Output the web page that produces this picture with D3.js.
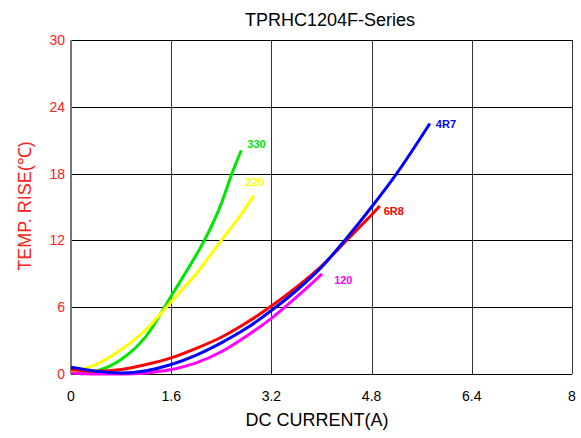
<!DOCTYPE html>
<html>
<head>
<meta charset="utf-8">
<script src="https://cdn.jsdelivr.net/npm/d3@7"></script>
<style>
    body { margin: 0; background: #fff; }
    svg { font-family: Arial, "Liberation Sans", sans-serif; }
</style>
</head>
<body>
<div id="chart"></div>
<script>
// valores
var xTicks = [0, 1.6, 3.2, 4.8, 6.4, 8];
var yTicks = [0, 6, 12, 18, 24, 30];

var current330 = [0.15, 0.4, 0.8, 1.2, 1.6, 1.98, 2.13, 2.4, 2.57, 2.72];
var temp330    = [0.0, 0.25, 1.3, 3.4, 7.0, 10.5, 12.0, 15.3, 18.0, 20.1];

var current220 = [0, 0.4, 0.8, 1.2, 1.6, 2.0, 2.4, 2.7, 2.92];
var temp220    = [0.2, 0.85, 2.2, 4.0, 6.5, 9.0, 12.0, 14.2, 16.0];

var current4R7 = [0, 0.4, 0.8, 1.2, 1.6, 2.0, 2.4, 2.8, 3.2, 3.6, 4.0, 4.4, 4.8, 5.2, 5.73];
var temp4R7    = [0.6, 0.25, 0.1, 0.3, 0.85, 1.7, 2.8, 4.1, 5.7, 7.5, 9.6, 12.2, 15.0, 18.0, 22.5];

var current6R8 = [0, 0.4, 0.8, 1.2, 1.6, 2.0, 2.4, 2.8, 3.2, 3.6, 4.0, 4.4, 4.8, 4.93];
var temp6R8    = [0.4, 0.25, 0.4, 0.85, 1.45, 2.3, 3.3, 4.6, 6.1, 7.8, 9.7, 12.0, 14.3, 15.1];

var current120 = [0, 0.4, 0.8, 1.2, 1.6, 2.0, 2.4, 2.8, 3.2, 3.6, 4.01];
var temp120    = [0.1, 0.0, 0.0, 0.1, 0.4, 1.0, 2.0, 3.4, 5.0, 6.9, 9.0];

var series = [
    {nome: "330", cor: "#00e600", x: current330, y: temp330, dx: 6, dy: -2},
    {nome: "220", cor: "#ffff00", x: current220, y: temp220, dx: -8, dy: -10},
    {nome: "120", cor: "#ff00ff", x: current120, y: temp120, dx: 12, dy: 10},
    {nome: "6R8", cor: "#ff0000", x: current6R8, y: temp6R8, dx: 4, dy: 9},
    {nome: "4R7", cor: "#0000ff", x: current4R7, y: temp4R7, dx: 6, dy: 4}
];

var width = 581, height = 438;
var margin = {left: 71, right: 9, top: 40, bottom: 64};

var svg = d3.select("#chart").append("svg")
    .attr("width", width)
    .attr("height", height);

var x = d3.scaleLinear().domain([0, 8]).range([margin.left, width - margin.right]);
var y = d3.scaleLinear().domain([0, 30]).range([height - margin.bottom, margin.top]);

// grade horizontal
svg.append("g")
    .selectAll("line")
    .data(yTicks.slice(1))
    .enter().append("line")
    .attr("x1", x(0)).attr("x2", x(8))
    .attr("y1", function(d) { return Math.round(y(d)) + 0.5; })
    .attr("y2", function(d) { return Math.round(y(d)) + 0.5; })
    .style("stroke", "#000")
    .style("stroke-width", 1);

// grade vertical
svg.append("g")
    .selectAll("line")
    .data(xTicks.slice(1))
    .enter().append("line")
    .attr("x1", function(d) { return Math.round(x(d)) + 0.5; })
    .attr("x2", function(d) { return Math.round(x(d)) + 0.5; })
    .attr("y1", y(30)).attr("y2", y(0))
    .style("stroke", "#333")
    .style("stroke-width", 1);

// eixo esquerdo e linha de baixo
svg.append("line")
    .attr("x1", x(0)).attr("x2", x(0))
    .attr("y1", y(30)).attr("y2", y(0))
    .style("stroke", "#777")
    .style("stroke-width", 2);

svg.append("line")
    .attr("x1", x(0)).attr("x2", x(8))
    .attr("y1", Math.round(y(0)) + 0.5).attr("y2", Math.round(y(0)) + 0.5)
    .style("stroke", "#000")
    .style("stroke-width", 1);

// rótulos dos ticks
svg.append("g")
    .selectAll("text")
    .data(xTicks)
    .enter().append("text")
    .attr("x", function(d) { return x(d); })
    .attr("y", y(0) + 27)
    .attr("text-anchor", "middle")
    .style("font-size", "14px")
    .style("fill", "#000")
    .text(function(d) { return d; });

svg.append("g")
    .selectAll("text")
    .data(yTicks)
    .enter().append("text")
    .attr("x", x(0) - 6)
    .attr("y", function(d) { return y(d) + 5; })
    .attr("text-anchor", "end")
    .style("font-size", "14px")
    .style("fill", "#ff2020")
    .text(function(d) { return d; });

// curvas
var line = d3.line()
    .x(function(d) { return x(d[0]); })
    .y(function(d) { return y(d[1]); })
    .curve(d3.curveMonotoneX);

var g = svg.selectAll(".serie")
    .data(series)
    .enter().append("g")
    .attr("class", "serie");

g.append("path")
    .attr("d", function(s) { return line(d3.zip(s.x, s.y)); })
    .style("fill", "none")
    .style("stroke", function(s) { return s.cor; })
    .style("stroke-width", 3)
    .style("stroke-linecap", "butt");

g.append("text")
    .attr("x", function(s) { return x(s.x[s.x.length - 1]) + s.dx; })
    .attr("y", function(s) { return y(s.y[s.y.length - 1]) + s.dy; })
    .style("font-size", "11px")
    .style("font-weight", "bold")
    .style("fill", function(s) { return s.cor; })
    .text(function(s) { return s.nome; });

// títulos
svg.append("text")
    .attr("x", 330)
    .attr("y", 26)
    .attr("text-anchor", "middle")
    .style("font-size", "18px")
    .style("fill", "#000")
    .text("TPRHC1204F-Series");

svg.append("text")
    .attr("x", 317)
    .attr("y", 426)
    .attr("text-anchor", "middle")
    .style("font-size", "18px")
    .style("fill", "#000")
    .text("DC CURRENT(A)");

svg.append("text")
    .attr("transform", "translate(31,206) rotate(-90)")
    .attr("text-anchor", "middle")
    .style("font-size", "18px")
    .style("fill", "#ff2020")
    .text("TEMP. RISE(℃)");
</script>
</body>
</html>
